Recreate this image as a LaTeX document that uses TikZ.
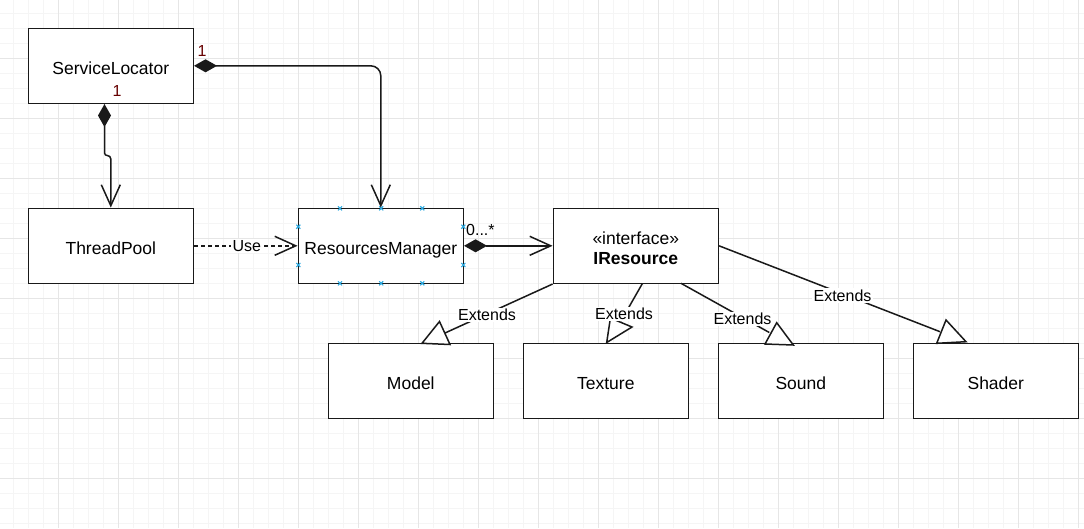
\documentclass[tikz,border=0pt]{standalone}
\usepackage{fontspec}
\setmainfont{Liberation Sans}
\usetikzlibrary{arrows.meta}
\definecolor{ink}{RGB}{25,25,25}
\definecolor{multc}{RGB}{102,0,0}
\definecolor{minorg}{RGB}{245,245,245}
\definecolor{majorg}{RGB}{230,230,230}
\definecolor{markc}{RGB}{41,168,224}
\begin{document}
\begin{tikzpicture}[x=1pt,y=-1pt,
  basebox/.style={draw=ink, line width=1.5pt, fill=white, minimum width=165pt, minimum height=75pt, inner sep=0pt, align=center, font=\fontsize{17.5}{20}\selectfont},
  box/.style={basebox, text height=17pt, text depth=0pt},
  conn/.style={draw=ink, line width=1.5pt},
  comp/.style={conn, {Diamond[length=23pt,width=13pt]}-{Straight Barb[length=21pt,width=19pt]}},
  opentip/.style={conn, -{Straight Barb[length=21pt,width=19pt]}},
  tri/.style={draw=ink, line width=1.5pt, fill=white, line join=miter},
  lab/.style={fill=white, inner sep=1.5pt, font=\fontsize{16}{18}\selectfont, text=black},
  multlab/.style={inner sep=0pt, font=\fontsize{16}{18}\selectfont, text=multc},
  minorline/.style={draw=minorg, line width=1pt},
  majorline/.style={draw=majorg, line width=1pt},
  cross/.style={draw=markc, line width=1.1pt}
]
\useasboundingbox (0,0) rectangle (1084,528);
\fill[white] (0,0) rectangle (1084,528);
% grid
\foreach \i in {0,...,71} { \draw[minorline] ({13.33+15*\i},0) -- ({13.33+15*\i},528); }
\foreach \i in {0,...,34} { \draw[minorline] (0,{13.33+15*\i}) -- (1084,{13.33+15*\i}); }
\foreach \i in {0,...,17} { \draw[majorline] ({58.33+60*\i},0) -- ({58.33+60*\i},528); }
\foreach \i in {0,...,8} { \draw[majorline] (0,{58.33+60*\i}) -- (1084,{58.33+60*\i}); }

% boxes
\node[box] (SL) at (110.8,65.8) {ServiceLocator};
\node[box] (TP) at (110.8,245.8) {ThreadPool};
\node[box] (RM) at (380.8,245.8) {ResourcesManager};
\node[basebox] (IR) at (635.8,245.8) {\rule{0pt}{17.4pt}«interface»\\\textbf{IResource}};
\node[box] (MO) at (410.8,380.8) {Model};
\node[box] (TX) at (605.8,380.8) {Texture};
\node[box] (SO) at (800.8,380.8) {Sound};
\node[box] (SH) at (995.8,380.8) {Shader};

% selection markers on ResourcesManager
\foreach \p in {(340,208.3),(381.2,208.3),(422.3,208.3),(340,283.3),(381.2,283.3),(422.3,283.3),(298.3,226.7),(298.3,265),(463.3,226.7),(463.3,265)} {
  \draw[cross] \p ++(-2,-2) -- ++(4,4) ++(0,-4) -- ++(-4,4);
}

% compositions
\draw[comp, rounded corners=10pt] (SL.east) -| (RM.north);
\draw[comp] ([xshift=-6.3pt]SL.south) -- (104.5,153) .. controls (104.5,157) and (110.8,154) .. (110.8,159) -- (TP.north);
\draw[comp] (RM.east) -- (IR.west);
\node[multlab] (m1) at (202,51) {1};
\node[multlab] (m2) at (117,91) {1};
\node[inner sep=0pt, font=\fontsize{16}{18}\selectfont, anchor=west] (m3) at (466,230) {0...*};

% dependency
\draw[opentip, dash pattern=on 4pt off 3pt] (TP.east) -- (RM.west) node[lab, midway, xshift=1pt] (use) {Use};

% extends
\coordinate (eM) at (445,333);
\coordinate (eT) at (621,321);
\coordinate (eS) at (769.3,332.5);
\coordinate (eH) at (940,331.7);
\coordinate (sS) at (681,283.3);
\draw[conn] (IR.south west) -- (eM);
\draw[conn] (642.5,283.3) -- (eT);
\draw[conn] (sS) -- (eS);
\draw[conn] (IR.east) -- (eH);
\draw[tri] (439.5,321.5) -- (422,343.3) -- (450,344.5) -- cycle;
\draw[tri] (606.7,342.5) -- (610.4,318) -- (632,327) -- cycle;
\draw[tri] (776.7,322.7) -- (765,344) -- (793.3,345) -- cycle;
\draw[tri] (946,320) -- (936.7,343.3) -- (966,341.7) -- cycle;
\node[lab] (l1) at (487,315) {Extends};
\node[lab] (l2) at (624,314) {Extends};
\node[lab] (l3) at (742.5,319) {Extends};
\node[lab] (l4) at (842.5,295.5) {Extends};
\end{tikzpicture}
\end{document}
